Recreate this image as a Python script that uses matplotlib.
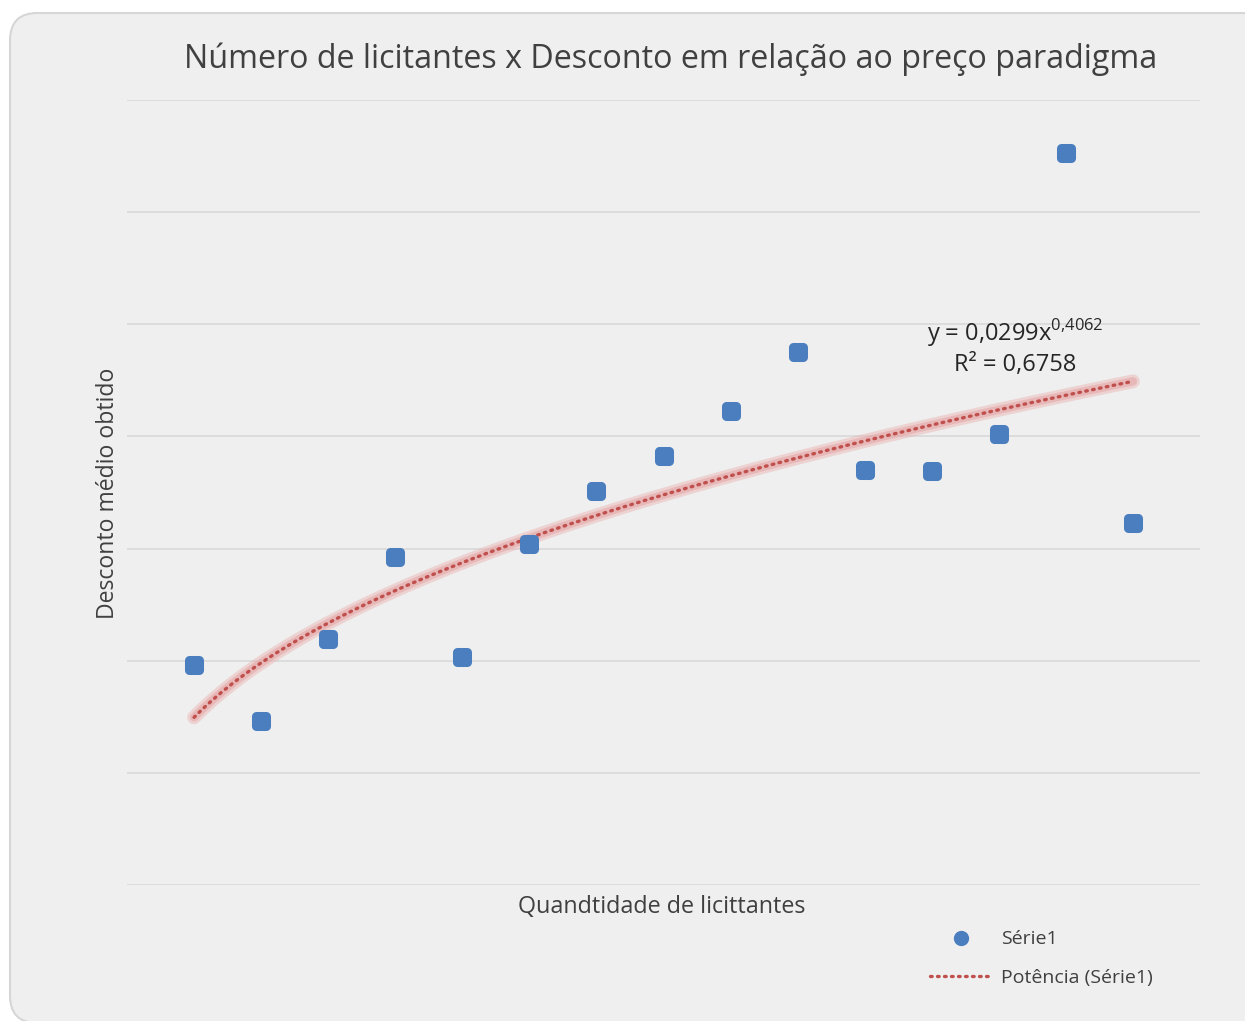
import numpy as np
import matplotlib
matplotlib.use("Agg")
import matplotlib.pyplot as plt
from matplotlib.patches import FancyBboxPatch
from matplotlib.lines import Line2D
from matplotlib.markers import MarkerStyle

plt.rcParams['font.family'] = ['Open Sans', 'DejaVu Sans']
plt.rcParams['mathtext.fontset'] = 'custom'
plt.rcParams['mathtext.rm'] = 'Open Sans'

# data
licitantes = [1, 2, 3, 4, 5, 6, 7, 8, 9, 10, 11, 12, 13, 14, 15]
desconto = [0.0392, 0.0292, 0.0439, 0.0585, 0.0407, 0.0608, 0.0702, 0.0765,
            0.0845, 0.0950, 0.0740, 0.0738, 0.0804, 0.1305, 0.0645]
# power trendline as printed on the chart
coef_a, coef_b = 0.0299, 0.4062
r2_txt = "0,6758"

W, H = 1245, 1021
fig = plt.figure(figsize=(W / 100, H / 100), dpi=100)
fig.patch.set_facecolor("white")

# rounded chart-area frame (pixels -> figure fraction)
bg = FancyBboxPatch((10 / W, 1 - 1023 / H), (1270 - 10) / W, (1023 - 13) / H,
                    boxstyle="round,pad=0,rounding_size=0.022",
                    transform=fig.transFigure, facecolor="#EFEFEF",
                    edgecolor="#D6D6D6", lw=1.5, mutation_aspect=W / H, zorder=-5)
fig.patches.append(bg)

ax = fig.add_axes([127 / W, 1 - 885 / H, (1200 - 127) / W, (885 - 100) / H])
ax.set_facecolor("none")
ax.set_xlim(0, 16)
ax.set_ylim(0, 0.14)
ax.set_yticks(np.arange(0, 0.1401, 0.02))
ax.set_xticks([])
ax.tick_params(axis="y", length=0, labelleft=False)
ax.grid(axis="y", color="#D9D9D9", lw=1.2)
for s in ax.spines.values():
    s.set_visible(False)

xt = np.linspace(licitantes[0], licitantes[-1], 200)
yt = coef_a * xt ** coef_b
ax.plot(xt, yt, color="#EBB0B0", lw=10, alpha=0.45, solid_capstyle="round", zorder=2)
ax.plot(xt, yt, color="#E29A9A", lw=6, alpha=0.45, solid_capstyle="round", zorder=2)
ax.plot(xt, yt, color="#C0504D", lw=2.4, ls=(0, (0.5, 1.6)),
        dash_capstyle="round", zorder=3)

ax.plot(licitantes, desconto, ls="none", marker=MarkerStyle("s", joinstyle="round"),
        ms=6.5, mew=6.5, color="#4A7EBF", mec="#4A7EBF", zorder=4)

ax.text(13.24, 0.0984, r"y = 0,0299x$^{\mathregular{0{,}4062}}$", ha="center",
        va="center", fontsize=17, color="#262626")
ax.text(13.24, 0.0927, "R² = " + r2_txt, ha="center", va="center",
        fontsize=17, color="#262626")

fig.text(671 / W, 1 - 59 / H, "Número de licitantes x Desconto em relação ao preço paradigma",
         ha="center", va="center", fontsize=23.2, color="#404040")
fig.text(108 / W, 1 - 493 / H, "Desconto médio obtido", rotation=90,
         ha="center", va="center", fontsize=16.6, color="#404040")
fig.text(662 / W, 1 - 907 / H, "Quandtidade de licittantes",
         ha="center", va="center", fontsize=16.8, color="#404040")

handles = [Line2D([], [], ls="none", marker="o", ms=10, color="#4A7EBF"),
           Line2D([], [], color="#C0504D", lw=2.4, ls=(0, (0.5, 1.6)),
                  dash_capstyle="round")]
leg = fig.legend(handles, ["Série1", "Potência (Série1)"], loc="upper left",
                 bbox_to_anchor=(912 / W, 1 - 913 / H), frameon=False,
                 fontsize=14, handlelength=3.2, handletextpad=0.5,
                 labelspacing=1.05, labelcolor="#404040")

fig.savefig("out.png", dpi=100)
